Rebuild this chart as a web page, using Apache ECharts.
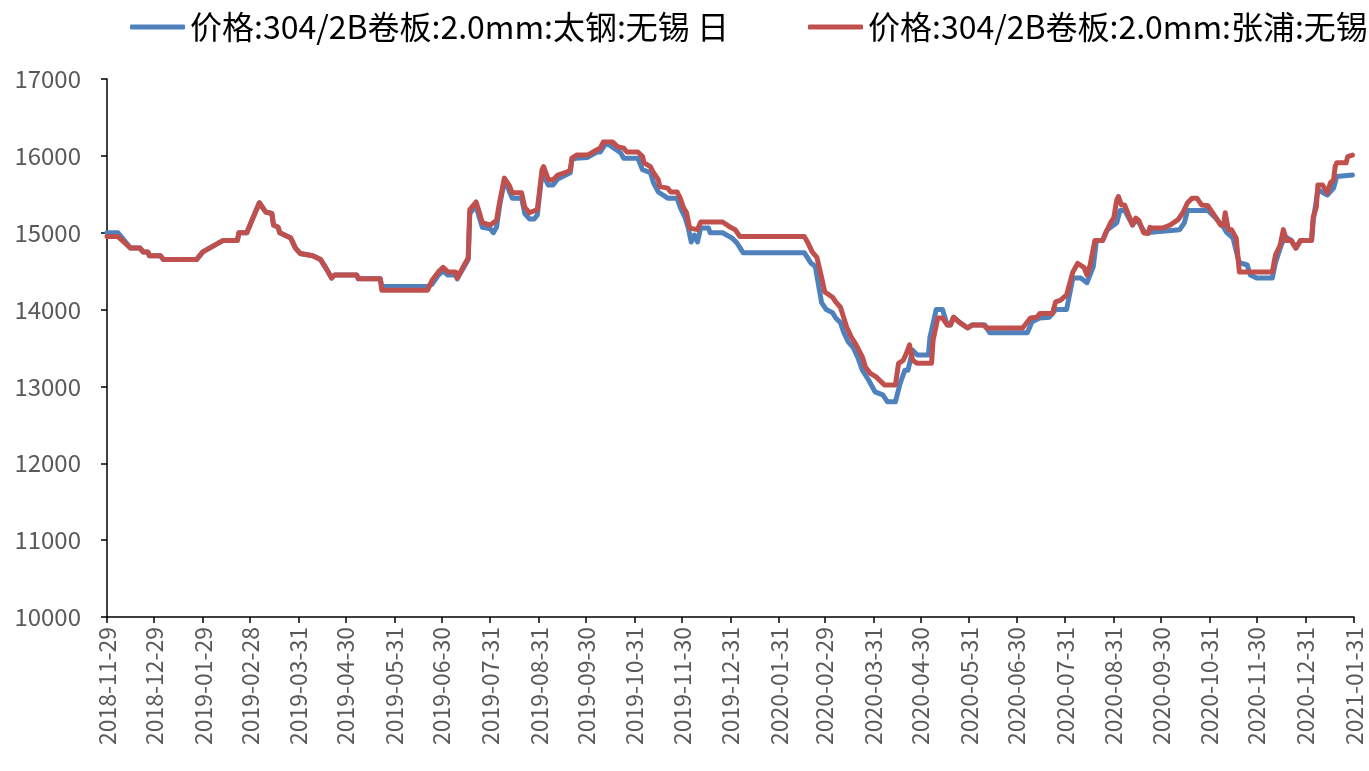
<!DOCTYPE html>
<html>
<head>
<meta charset="utf-8">
<script src="https://cdn.jsdelivr.net/npm/echarts@6/dist/echarts.min.js"></script>
<style>
html,body{margin:0;padding:0;background:#fff;}
#chart{width:1369px;height:771px;}
</style>
</head>
<body>
<div id="chart"></div>
<script>
const seriesNames = ['价格:304/2B卷板:2.0mm:太钢:无锡 日', '价格:304/2B卷板:2.0mm:张浦:无锡 日'];
const xTickLabels = ['2018-11-29','2018-12-29','2019-01-29','2019-02-28','2019-03-31','2019-04-30','2019-05-31','2019-06-30','2019-07-31','2019-08-31','2019-09-30','2019-10-31','2019-11-30','2019-12-31','2020-01-31','2020-02-29','2020-03-31','2020-04-30','2020-05-31','2020-06-30','2020-07-31','2020-08-31','2020-09-30','2020-10-31','2020-11-30','2020-12-31','2021-01-31'];
const yMin = 10000, yMax = 17000, yStep = 1000;

const taigangData = [
['2018-11-29',15000],['2018-12-06',15000],['2018-12-14',14800],['2018-12-20',14800],['2018-12-22',14750],['2018-12-25',14750],['2018-12-26',14700],['2019-01-02',14700],['2019-01-04',14650],['2019-01-13',14650],['2019-01-14','-'],['2019-01-15',14650],['2019-01-25',14650],['2019-01-29',14750],['2019-02-11',14900],['2019-02-20',14900],['2019-02-21',15000],['2019-02-26',15000],['2019-03-06',15390],['2019-03-10',15270],['2019-03-14',15250],['2019-03-15',15100],['2019-03-18',15070],['2019-03-19',15000],['2019-03-24',14950],['2019-03-26',14930],['2019-03-29',14800],['2019-04-01',14730],['2019-04-09',14700],['2019-04-14',14650],['2019-04-18',14520],['2019-04-21',14410],['2019-04-23',14450],['2019-05-07',14450],['2019-05-08',14400],['2019-05-22',14400],
['2019-05-23',14300],['2019-06-21',14300],['2019-06-24',14330],['2019-06-28',14450],['2019-07-01',14500],['2019-07-04',14450],['2019-07-09',14450],['2019-07-10',14400],['2019-07-15',14580],['2019-07-17',14650],['2019-07-18',15250],['2019-07-22',15350],['2019-07-24',15200],['2019-07-26',15070],['2019-07-31',15050],['2019-08-02',15000],['2019-08-04',15070],['2019-08-06',15350],['2019-08-09',15680],['2019-08-12',15550],['2019-08-14',15450],['2019-08-20',15450],['2019-08-22',15250],['2019-08-25',15180],['2019-08-28',15180],['2019-08-30',15230],
['2019-09-02',15780],['2019-09-03',15800],['2019-09-06',15620],['2019-09-09',15620],['2019-09-12',15700],['2019-09-18',15760],['2019-09-20',15780],['2019-09-21',15950],['2019-09-24',15970],['2019-10-01',15980],['2019-10-07',16050],['2019-10-09',16050],['2019-10-13',16170],['2019-10-15',16140],['2019-10-22',16040],['2019-10-24',15970],['2019-11-02',15970],['2019-11-05',15820],['2019-11-10',15780],['2019-11-12',15650],['2019-11-15',15530],['2019-11-21',15450],['2019-11-27',15450],['2019-11-29',15330],['2019-12-02',15200],['2019-12-04',15070],['2019-12-06',14880],['2019-12-08',14970],['2019-12-10',14880],['2019-12-12',15060],['2019-12-17',15060],['2019-12-18',15000],['2019-12-26',15000],
['2020-01-01',14930],['2020-01-04',14870],['2020-01-08',14740],['2020-02-16',14740],['2020-02-20',14610],['2020-02-23',14560],['2020-02-27',14090],['2020-03-01',14000],['2020-03-05',13960],['2020-03-07',13890],['2020-03-10',13830],['2020-03-12',13710],['2020-03-15',13580],['2020-03-18',13510],['2020-03-21',13380],['2020-03-24',13210],['2020-03-28',13080],['2020-04-01',12930],['2020-04-06',12890],['2020-04-09',12800],['2020-04-14',12800],['2020-04-17',13040],['2020-04-20',13210],['2020-04-22',13210],['2020-04-25',13470],['2020-04-28',13410],['2020-05-05',13410],['2020-05-06',13640],['2020-05-10',14000],['2020-05-14',14000],['2020-05-17',13800],['2020-05-19',13800],['2020-05-21',13900],['2020-05-25',13830],['2020-05-30',13760],['2020-06-02',13800],['2020-06-10',13800],['2020-06-13',13700],['2020-07-07',13700],['2020-07-10',13840],['2020-07-15',13890],['2020-07-21',13900],['2020-07-25',14000],['2020-08-01',14000],
['2020-08-05',14410],['2020-08-10',14410],['2020-08-14',14350],['2020-08-18',14560],['2020-08-20',14900],['2020-08-24',14900],['2020-08-26',15000],['2020-08-27',15040],['2020-09-02',15130],['2020-09-04',15290],['2020-09-07',15290],['2020-09-12',15100],['2020-09-14',15160],['2020-09-16',15130],['2020-09-20',15000],['2020-10-12',15040],['2020-10-15',15130],['2020-10-17',15290],['2020-10-30',15290],['2020-11-04',15190],['2020-11-09',15070],['2020-11-11',15000],['2020-11-15',14930],['2020-11-18',14680],['2020-11-19',14610],['2020-11-24',14580],['2020-11-26',14450],['2020-11-30',14410],['2020-12-10',14410],['2020-12-12',14610],['2020-12-16',14860],['2020-12-19',14940],['2020-12-22',14900],['2020-12-25',14800],['2020-12-28',14900],['2021-01-04',14900],['2021-01-05',15150],['2021-01-08',15560],['2021-01-14',15490],['2021-01-18',15580],['2021-01-20',15730],['2021-01-30',15750]
];

const zhangpuData = [
['2018-11-29',14950],['2018-12-06',14950],['2018-12-14',14800],['2018-12-20',14800],['2018-12-22',14750],['2018-12-25',14750],['2018-12-26',14700],['2019-01-02',14700],['2019-01-04',14650],['2019-01-13',14650],['2019-01-14','-'],['2019-01-15',14650],['2019-01-25',14650],['2019-01-29',14750],['2019-02-11',14900],['2019-02-20',14900],['2019-02-21',15000],['2019-02-26',15000],['2019-03-06',15390],['2019-03-10',15270],['2019-03-14',15250],['2019-03-15',15100],['2019-03-18',15070],['2019-03-19',15000],['2019-03-24',14950],['2019-03-26',14930],['2019-03-29',14800],['2019-04-01',14730],['2019-04-09',14700],['2019-04-14',14650],['2019-04-18',14520],['2019-04-21',14410],['2019-04-23',14450],['2019-05-07',14450],['2019-05-08',14400],['2019-05-22',14400],
['2019-05-23',14250],['2019-06-21',14250],['2019-06-24',14380],['2019-06-28',14490],['2019-07-01',14550],['2019-07-04',14490],['2019-07-09',14490],['2019-07-10',14410],['2019-07-15',14600],['2019-07-17',14670],['2019-07-18',15300],['2019-07-22',15400],['2019-07-24',15270],['2019-07-26',15130],['2019-07-31',15100],['2019-08-04',15160],['2019-08-06',15400],['2019-08-09',15710],['2019-08-12',15620],['2019-08-14',15520],['2019-08-20',15520],['2019-08-22',15330],['2019-08-25',15260],['2019-08-30',15300],
['2019-09-02',15820],['2019-09-03',15860],['2019-09-06',15690],['2019-09-09',15690],['2019-09-12',15750],['2019-09-18',15790],['2019-09-20',15820],['2019-09-21',15970],['2019-09-24',16010],['2019-10-01',16010],['2019-10-07',16080],['2019-10-09',16100],['2019-10-11',16180],['2019-10-17',16180],['2019-10-20',16120],['2019-10-24',16100],['2019-10-26',16050],['2019-11-02',16050],['2019-11-05',15990],['2019-11-06',15910],['2019-11-10',15860],['2019-11-12',15780],['2019-11-15',15690],['2019-11-16',15600],['2019-11-21',15580],['2019-11-23',15530],['2019-11-27',15530],['2019-11-29',15450],['2019-12-01',15330],['2019-12-03',15260],['2019-12-05',15060],['2019-12-10',15040],['2019-12-12',15140],['2019-12-26',15140],['2019-12-31',15070],
['2020-01-03',15040],['2020-01-06',14950],['2020-02-16',14950],['2020-02-18',14880],['2020-02-21',14750],['2020-02-24',14680],['2020-02-27',14420],['2020-02-29',14230],['2020-03-05',14160],['2020-03-07',14100],['2020-03-10',14030],['2020-03-12',13900],['2020-03-14',13770],['2020-03-17',13640],['2020-03-20',13540],['2020-03-24',13380],['2020-03-26',13250],['2020-03-29',13170],['2020-04-02',13120],['2020-04-07',13020],['2020-04-14',13020],['2020-04-16',13300],['2020-04-19',13340],['2020-04-21',13430],['2020-04-23',13540],['2020-04-25',13340],['2020-04-28',13300],['2020-05-07',13300],['2020-05-08',13600],['2020-05-11',13890],['2020-05-14',13890],['2020-05-17',13800],['2020-05-19',13800],['2020-05-21',13900],['2020-05-25',13830],['2020-05-30',13760],['2020-06-02',13800],['2020-06-09',13800],['2020-06-11',13760],['2020-07-04',13760],['2020-07-09',13890],['2020-07-13',13900],['2020-07-15',13950],['2020-07-23',13950],['2020-07-25',14100],['2020-07-28',14120],['2020-08-01',14190],
['2020-08-05',14490],['2020-08-08',14600],['2020-08-12',14550],['2020-08-14',14450],['2020-08-16',14580],['2020-08-19',14900],['2020-08-24',14900],['2020-08-26',15000],['2020-08-29',15130],['2020-08-31',15190],['2020-09-02',15430],['2020-09-03',15470],['2020-09-05',15360],['2020-09-07',15360],['2020-09-12',15100],['2020-09-14',15190],['2020-09-16',15160],['2020-09-19',15000],['2020-09-22',14990],['2020-09-23',15070],['2020-09-25',15060],['2020-10-01',15060],['2020-10-06',15100],['2020-10-11',15170],['2020-10-14',15260],['2020-10-17',15390],['2020-10-20',15450],['2020-10-23',15450],['2020-10-26',15360],['2020-10-30',15350],['2020-11-04',15200],['2020-11-07',15100],['2020-11-09',15100],['2020-11-10',15260],['2020-11-12',15040],['2020-11-14',15040],['2020-11-17',14930],['2020-11-19',14490],['2020-12-10',14490],['2020-12-12',14710],['2020-12-15',14840],['2020-12-17',15040],['2020-12-19',14900],['2020-12-22',14900],['2020-12-25',14800],['2020-12-28',14900],['2021-01-04',14900],['2021-01-05',15200],['2021-01-07',15330],['2021-01-08',15620],['2021-01-11',15620],['2021-01-14',15520],['2021-01-16',15650],['2021-01-18',15690],['2021-01-19',15860],['2021-01-20',15910],['2021-01-26',15910],['2021-01-27',15990],['2021-01-30',16010]
];

const FONT = '"Noto Sans CJK SC", "Noto Sans", sans-serif';
const DAY = 86400000;
function toTime(s) {
  const p = s.split('-').map(Number);
  return Date.UTC(p[0], p[1] - 1, p[2]);
}
function fmt(t) {
  const d = new Date(Math.round(t / DAY) * DAY);
  const mm = String(d.getUTCMonth() + 1).padStart(2, '0');
  const dd = String(d.getUTCDate()).padStart(2, '0');
  return d.getUTCFullYear() + '-' + mm + '-' + dd;
}
const tickTimes = xTickLabels.map(toTime);
const toSeries = arr => arr.map(p => [toTime(p[0]), p[1]]);

const chart = echarts.init(document.getElementById('chart'), null, {renderer: 'canvas'});
const legendBase = {
  orient: 'horizontal',
  top: 11,
  padding: 0,
  itemWidth: 55,
  itemHeight: 5,
  icon: 'roundRect',
  itemGap: 10,
  textStyle: {fontFamily: FONT, fontSize: 32, color: '#000', lineHeight: 32}
};
chart.setOption({
  animation: false,
  backgroundColor: '#fff',
  legend: [
    Object.assign({}, legendBase, {left: 130, data: [seriesNames[0]]}),
    Object.assign({}, legendBase, {left: 808, data: [seriesNames[1]]})
  ],
  grid: {left: 107, right: 15, top: 79, bottom: 154, containLabel: false},
  xAxis: {
    type: 'value',
    min: tickTimes[0],
    max: tickTimes[tickTimes.length - 1],
    splitLine: {show: false},
    axisLine: {show: true, lineStyle: {color: '#000', width: 1.5}},
    axisTick: {show: true, customValues: tickTimes, length: 6, lineStyle: {color: '#000', width: 1.5}},
    axisLabel: {
      customValues: tickTimes,
      rotate: 90,
      margin: 10,
      color: '#595959',
      fontFamily: FONT,
      fontSize: 23,
      formatter: v => fmt(v),
      hideOverlap: false
    }
  },
  yAxis: {
    type: 'value',
    min: yMin, max: yMax, interval: yStep,
    splitLine: {show: false},
    axisLine: {show: true, lineStyle: {color: '#000', width: 1.5}},
    axisTick: {show: true, length: 6, lineStyle: {color: '#000', width: 1.5}},
    axisLabel: {color: '#595959', fontFamily: FONT, fontSize: 24, margin: 26, formatter: v => String(v)}
  },
  series: [
    {name: seriesNames[0], type: 'line', data: toSeries(taigangData), showSymbol: false, connectNulls: false,
     lineStyle: {color: '#4F81BD', width: 5, cap: 'round', join: 'round'}, itemStyle: {color: '#4F81BD'}},
    {name: seriesNames[1], type: 'line', data: toSeries(zhangpuData), showSymbol: false, connectNulls: false,
     lineStyle: {color: '#C0504D', width: 5, cap: 'round', join: 'round'}, itemStyle: {color: '#C0504D'}}
  ]
});
</script>
</body>
</html>
